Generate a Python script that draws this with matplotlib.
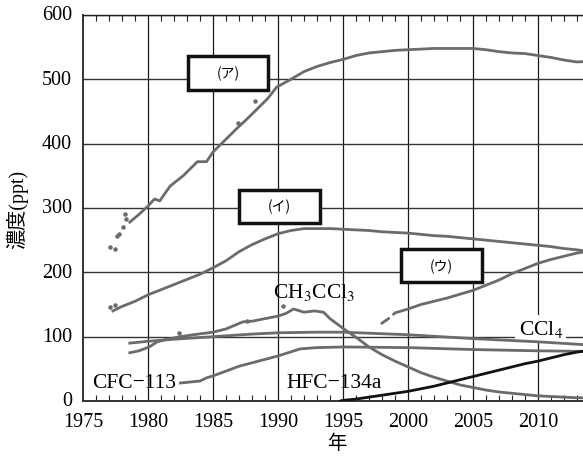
import matplotlib
matplotlib.use("Agg")
import matplotlib.pyplot as plt
from matplotlib.transforms import ScaledTranslation
import numpy as np

plt.rcParams['font.family'] = ['Liberation Serif', 'Noto Sans CJK JP', 'DejaVu Sans']
plt.rcParams['mathtext.fontset'] = 'stix'

# ---- data (ppt) ----
cfc12_x = [1978.6, 1979.3, 1980, 1980.5, 1980.9, 1981.7, 1982.7, 1983.8, 1984.5, 1985, 1985.8, 1986.8,
           1987.6, 1988.4, 1989.2, 1989.9, 1990.9, 1992, 1993, 1994, 1995, 1996, 1997, 1998, 1999,
           2000, 2001, 2002, 2003, 2004, 2005, 2006, 2007, 2008, 2009, 2010, 2011, 2012, 2013, 2014]
cfc12_y = [278, 290, 303, 314, 311, 334, 350, 372, 372, 387, 403, 423,
           438, 454, 470, 488, 499, 512, 520, 526, 531, 537, 541, 543, 545,
           546, 547, 548, 548, 548, 548, 546, 543, 541, 540, 537, 534, 530, 527, 528]
cfc12_dots_x = [1977.1, 1977.5, 1977.6, 1977.8, 1978.1, 1978.2, 1978.3, 1986.9, 1988.2]
cfc12_dots_y = [240, 236, 256, 260, 270, 291, 283, 432, 466]

cfc11_x = [1977.3, 1977.5, 1978, 1979, 1980, 1981, 1982, 1983, 1984, 1985, 1986, 1987, 1988, 1989, 1990,
           1991, 1992, 1993, 1994, 1995, 1996, 1997, 1998, 1999, 2000, 2001, 2002, 2003, 2004,
           2005, 2006, 2007, 2008, 2009, 2010, 2011, 2012, 2013, 2014]
cfc11_y = [140, 142, 147, 155, 165, 173, 181, 189, 197, 207, 218, 232, 243, 252, 260,
           265, 268, 268, 268, 267, 266, 265, 263, 262, 261, 259, 257, 256, 254,
           252, 250, 248, 246, 244, 242, 240, 237, 235, 232]
cfc11_dots_x = [1977.1, 1977.5]
cfc11_dots_y = [146, 149]

hcfc22_a_x = [1998.0, 1998.5]
hcfc22_a_y = [121, 128]
hcfc22_x = [1998.9, 1999, 2000, 2001, 2002, 2003, 2004, 2005, 2006, 2007, 2008, 2009, 2010, 2011, 2012, 2013, 2014]
hcfc22_y = [135, 137, 143, 150, 155, 160, 166, 172, 180, 188, 198, 206, 214, 220, 225, 230, 233]

ch3ccl3_x = [1978.6, 1979.3, 1980.1, 1980.7, 1981.5, 1982.5, 1983.5, 1985, 1986, 1987.3, 1988, 1989, 1990,
             1990.6, 1991.2, 1992, 1992.8, 1993.5, 1994, 1995, 1996, 1997, 1998, 1999, 2000,
             2001, 2002, 2003, 2004, 2005, 2006, 2007, 2008, 2009, 2010, 2011, 2012, 2013, 2014]
ch3ccl3_y = [75, 78, 84, 92, 96, 100, 103, 107, 112, 123, 124, 128, 132,
             136, 143, 138, 140, 138, 128, 113, 99, 84, 72, 62, 53,
             44, 37, 31, 25, 21, 17, 14, 12, 10, 8, 7, 6, 5, 5]
ch3ccl3_dots_x = [1982.4, 1987.6, 1990.4]
ch3ccl3_dots_y = [106, 125, 148]

ccl4_x = [1978.6, 1980.1, 1982, 1985, 1988, 1990, 1993, 1995, 2000, 2005, 2010, 2014]
ccl4_y = [90, 93, 96, 100, 104, 106, 107, 107, 103, 97, 92, 87]

cfc113_x = [1982.5, 1984, 1984.5, 1985, 1987, 1990, 1991.7, 1993, 1995, 2000, 2005, 2010, 2014]
cfc113_y = [28, 31, 36, 39, 54, 70, 81, 83, 84, 83, 80, 78, 77]

hfc134a_x = [1994.8, 1995, 1996, 1997, 1998, 1999, 2000, 2001, 2002, 2003, 2004, 2005,
             2006, 2007, 2008, 2009, 2010, 2011, 2012, 2013, 2014]
hfc134a_y = [0, 1, 3, 6, 9, 12, 15, 19, 23, 28, 33, 38, 43, 48, 53, 58, 62, 67, 72, 76, 79]

x_ticks = [1975, 1980, 1985, 1990, 1995, 2000, 2005, 2010]
y_ticks = [0, 100, 200, 300, 400, 500, 600]

# ---- figure ----
W, H = 583, 460
fig = plt.figure(figsize=(W / 100, H / 100), dpi=100)
ax = fig.add_axes([83 / W, 58 / H, 507 / W, 386 / H])
ax.set_xlim(1975, 2014)
ax.set_ylim(0, 600)

gray = '#6b6b6b'
lw = 2.0
ax.plot(cfc12_x, cfc12_y, color=gray, lw=lw, zorder=3)
ax.scatter(cfc12_dots_x, cfc12_dots_y, s=5, color=gray, zorder=3)
ax.plot(cfc11_x, cfc11_y, color=gray, lw=lw, zorder=3)
ax.scatter(cfc11_dots_x, cfc11_dots_y, s=5, color=gray, zorder=3)
ax.plot(hcfc22_a_x, hcfc22_a_y, color=gray, lw=lw, zorder=3)
ax.plot(hcfc22_x, hcfc22_y, color=gray, lw=lw, zorder=3)
ax.plot(ch3ccl3_x, ch3ccl3_y, color=gray, lw=lw, zorder=3)
ax.scatter(ch3ccl3_dots_x, ch3ccl3_dots_y, s=5, color=gray, zorder=3)
ax.plot(ccl4_x, ccl4_y, color=gray, lw=lw, zorder=3)
ax.plot(cfc113_x, cfc113_y, color=gray, lw=lw, zorder=3)
ax.plot(hfc134a_x, hfc134a_y, color='#111111', lw=2.0, zorder=3)

# grid
ax.set_axisbelow(True)
for xv in x_ticks[1:]:
    ax.axvline(xv, color='#1a1a1a', lw=0.9, zorder=0.5)
for yv in y_ticks[1:]:
    ax.axhline(yv, color='#333333', lw=1.0, zorder=0.5)

ax.set_xticks(x_ticks)
ax.set_yticks(y_ticks)
ax.set_xticks(np.arange(1975, 2015, 1), minor=True)
ax.tick_params(axis='x', which='minor', direction='in', length=4, width=0.8, top=True, bottom=True, color='#222222')
ax.tick_params(axis='x', which='major', direction='in', length=0, pad=8, labelsize=14.5)
ax.tick_params(axis='y', which='major', direction='in', length=0, pad=8, labelsize=14.5)
for lab in ax.get_yticklabels():
    lab.set_transform(lab.get_transform() + ScaledTranslation(0, 2 / 72, fig.dpi_scale_trans))

for s in ['left', 'bottom']:
    ax.spines[s].set_linewidth(1.4)
    ax.spines[s].set_color('#333333')
ax.spines['top'].set_linewidth(1.0)
ax.spines['top'].set_color('#222222')
ax.spines['right'].set_visible(False)

ax.set_xlabel('年', fontsize=14, labelpad=2)
ax.set_ylabel('濃度(ppt)', fontsize=14.5, labelpad=10)

def boxed(x0, x1, y0, y1, txt):
    ax.add_patch(plt.Rectangle((x0, y0), x1 - x0, y1 - y0, fc='white', ec='#111111', lw=2.5, zorder=4))
    ax.text((x0 + x1) / 2, (y0 + y1) / 2, txt, ha='center', va='center', fontsize=10,
            family=['Noto Sans CJK JP'], zorder=5)

boxed(1983.1, 1989.2, 484, 537, '(ア)')
boxed(1987.0, 1993.2, 277, 328, '(イ)')
boxed(1999.5, 2005.7, 185, 236, '(ウ)')

fs = 15.5
ax.text(1992.8, 170, r'CH$_3$CCl$_3$', ha='center', va='center', fontsize=fs, zorder=2)
ax.text(2010.2, 113, r'CCl$_4$', ha='center', va='center', fontsize=fs, zorder=1.5,
        bbox=dict(boxstyle='square,pad=0.15', fc='white', ec='none'))
ax.text(1978.9, 28, 'CFC−113', ha='center', va='center', fontsize=fs, zorder=2)
ax.text(1994.3, 28, 'HFC−134a', ha='center', va='center', fontsize=fs, zorder=2)

fig.savefig('out.png', dpi=100)
